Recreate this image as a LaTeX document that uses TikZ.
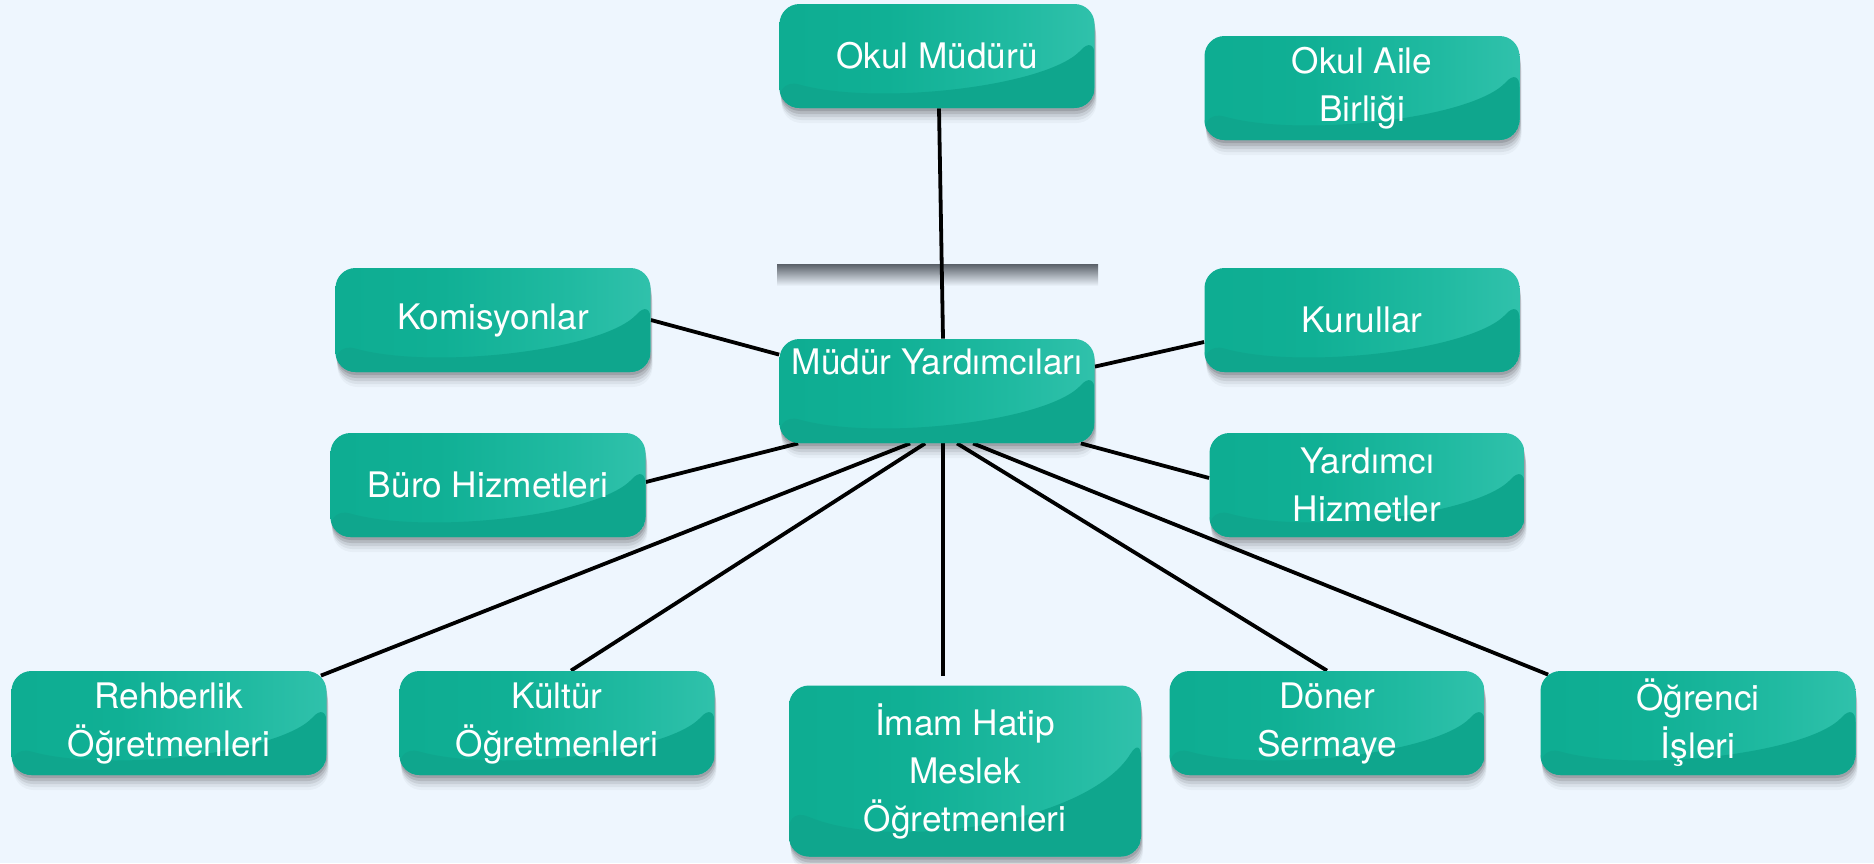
\documentclass[tikz,border=0pt]{standalone}
\usepackage{fontspec}
\setmainfont{TeX Gyre Heros}
\usetikzlibrary{calc,shadows,fadings}
\definecolor{bg}{HTML}{EEF6FE}
\definecolor{tealL}{HTML}{0BA88D}
\definecolor{tealM}{HTML}{10B095}
\definecolor{tealMM}{HTML}{20BAA1}
\definecolor{tealMR}{HTML}{36C4AF}
\definecolor{tealR}{HTML}{50D0BF}
\definecolor{tealD}{HTML}{0FA68D}
\definecolor{bandc}{HTML}{5A6068}
\pgfdeclarehorizontalshading{gloss}{100bp}{color(0bp)=(tealL); color(42bp)=(tealM); color(62bp)=(tealMM); color(80bp)=(tealMR); color(100bp)=(tealR)}
\pgfdeclarehorizontalshading{endsfadeshade}{100bp}{color(0bp)=(transparent!100); color(8bp)=(transparent!0); color(92bp)=(transparent!0); color(100bp)=(transparent!100)}
\pgfdeclarefading{endsfade}{\pgfuseshading{endsfadeshade}}
\pgfdeclarelayer{bgl}
\pgfsetlayers{bgl,main}
\begin{document}
\begin{tikzpicture}[x=0.5pt,y=-0.5pt,
  myshadow/.style={
    drop shadow={shadow xshift=0.3pt, shadow yshift=-1.5pt, opacity=0.12, fill=black},
    drop shadow={shadow xshift=0.5pt, shadow yshift=-3pt, opacity=0.10, fill=black},
    drop shadow={shadow xshift=0.7pt, shadow yshift=-4.5pt, opacity=0.08, fill=black},
    drop shadow={shadow xshift=0.9pt, shadow yshift=-6pt, opacity=0.05, fill=black},
    drop shadow={shadow xshift=1pt, shadow yshift=-7.5pt, opacity=0.03, fill=black}},
  glossy/.style={path picture={
    \coordinate (gNW) at (path picture bounding box.north west);
    \coordinate (gSE) at (path picture bounding box.south east);
    \shade[shading=gloss] (gNW) rectangle (gSE);
    \coordinate (gA) at ($(gNW)!0.30!(gSE)$);
    \coordinate (gB) at ($(gNW)!0.98!(gSE)$);
    \coordinate (gC) at ($(gNW)!0.85!(gSE)$);
    \coordinate (gD) at ($(gNW)!0.80!(gSE)$);
    \fill[tealD] ($(gNW)!0.72!(gNW|-gSE)$) .. controls (gA|-gB) and (gC|-gD) .. ($(gSE|-gNW)!0.30!(gSE)$) -- (gSE) -- (gNW|-gSE) -- cycle;
  }},
  box/.style={rounded corners=10pt, minimum width=157.5pt, minimum height=52pt,
    inner sep=0pt, align=center, text=white,
    font=\fontsize{17.6pt}{24pt}\selectfont, myshadow, glossy},
  bigbox/.style={box, minimum width=176pt, minimum height=85.5pt},
  conn/.style={line width=1.9pt, black}]

\begin{pgfonlayer}{bgl}
\fill[bg] (0,0) rectangle (1874,863);
\shade[top color=bandc, middle color=bandc!40!bg, bottom color=bg, path fading=endsfade] (777,264) rectangle (1098,286);
\end{pgfonlayer}
\useasboundingbox (0,0) rectangle (1874,863);

\node[box] (om) at (937,56) {Okul Müdürü};
\node[box] (oab) at (1362,88) {Okul Aile\\Birliği};
\node[box] (kom) at (493,320) {Komisyonlar};
\node[box] (kur) at (1362,320) {Kurullar};
\node[box] (my) at (937,391) {Müdür Yardımcıları\\[5pt]\mbox{}};
\node[box] (buro) at (488,485) {Büro Hizmetleri};
\node[box] (yh) at (1367,485) {Yardımcı\\Hizmetler};
\node[box] (reh) at (169,723) {Rehberlik\\Öğretmenleri};
\node[box] (kul) at (557,723) {Kültür\\Öğretmenleri};
\node[bigbox] (imam) at (965,771) {İmam Hatip\\Meslek\\Öğretmenleri};
\node[box] (don) at (1327,723) {Döner\\Sermaye};
\node[box] (ogr) at (1698,723) {Öğrenci\\İşleri};

\begin{pgfonlayer}{bgl}
\draw[conn] ($(om.south)+(2,0)$) -- ($(my.north)+(6,0)$);
\draw[conn] (kom.east) -- ($(my.north west)+(0,16)$);
\draw[conn] ($(kur.west)+(0,22)$) -- ($(my.north east)+(0,28)$);
\draw[conn] ($(buro.east)+(0,-3)$) -- ($(my.south west)+(19,0)$);
\draw[conn] ($(yh.west)+(0,-7)$) -- ($(my.south east)+(-14,0)$);
\draw[conn] ($(reh.north east)+(-6,5)$) -- ($(my.south west)+(131,0)$);
\draw[conn] ($(kul.north)+(14,0)$) -- ($(my.south west)+(146,0)$);
\draw[conn] ($(imam.north)+(-22,-9)$) -- ($(my.south)+(6,0)$);
\draw[conn] (don.north) -- ($(my.south west)+(178,0)$);
\draw[conn] ($(ogr.north west)+(8,4)$) -- ($(my.south west)+(194,0)$);
\end{pgfonlayer}
\end{tikzpicture}
\end{document}
